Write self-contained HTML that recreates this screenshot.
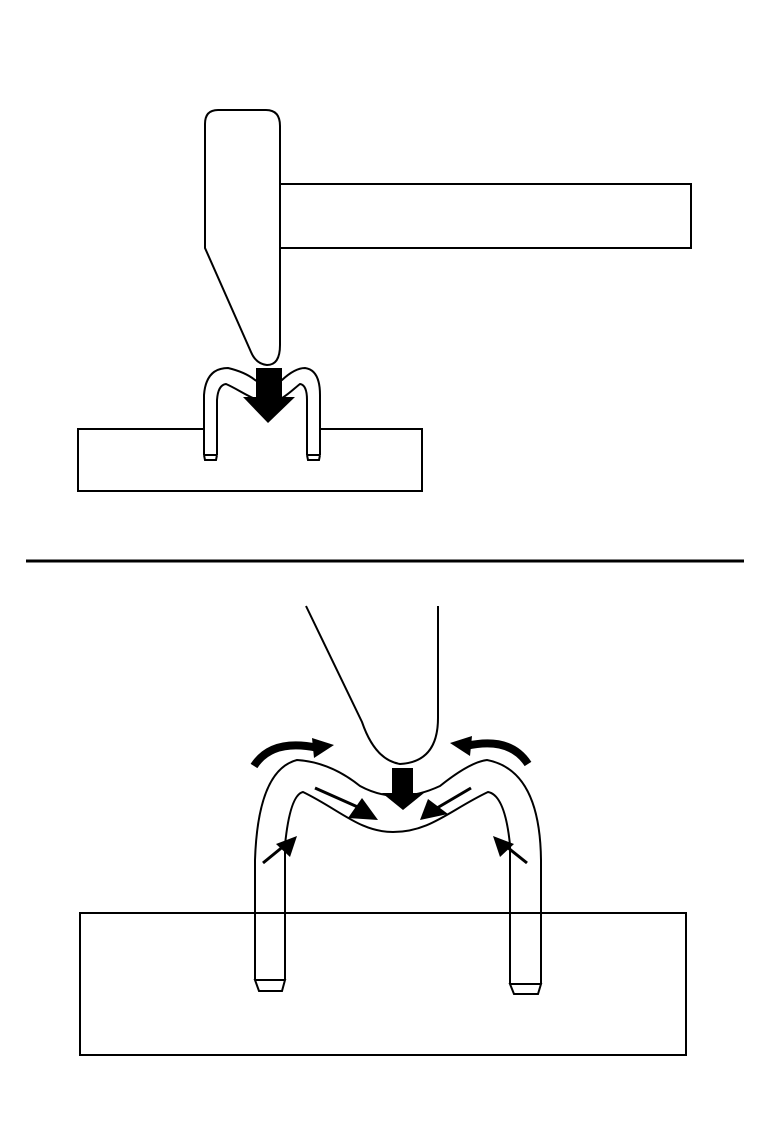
<!DOCTYPE html>
<html><head><style>body{margin:0;background:#fff}svg{display:block}</style></head><body>
<svg width="768" height="1123" viewBox="0 0 768 1123" xmlns="http://www.w3.org/2000/svg" fill="none" stroke="#000" stroke-width="2">
<!-- TOP -->
<rect x="280" y="184" width="411" height="64" fill="#fff"/>
<path d="M218 110 H266 Q280 110 280 126 V345 Q280 365 267 365 Q256 364 251 352 L205 248 V124 Q205 110 218 110 Z" fill="#fff"/>
<rect x="78" y="429" width="344" height="62"/>
<!-- staple top -->
<path d="M204 455 V395 Q206 368 228 368 Q245 372 255 380 Q268 388 282 380 Q295 368 305 368 Q320 370 320 395 V455" fill="#fff"/>
<path d="M217 455 V400 Q218 385 226 384 C240 390 255 402 268 402 C282 402 292 390 300 384 Q307 385 307 400 V455" fill="#fff"/>
<path d="M204 455 H217 M204 455 L205 460 H216 L217 455 M307 455 H320 M307 455 L308 460 H319 L320 455" />
<rect x="256" y="368" width="26" height="29" fill="#000" stroke="none"/>
<polygon points="243,397 295,397 268,423" fill="#000" stroke="none"/>
<!-- separator -->
<line x1="26" y1="561" x2="744" y2="561" stroke-width="3"/>
<!-- BOTTOM -->
<path d="M306 606 L362 722 Q375 760 400 764 Q438 762 438 718 V606"/>
<rect x="80" y="913" width="606" height="142"/>
<path d="M255 980 V860 Q258 770 297 760 Q330 762 360 786 Q397 806 440 786 Q470 762 487 760 Q540 770 541 860 V984"/>
<path d="M285 980 V845 Q290 795 303 792 C340 810 360 832 393 832 C430 832 450 810 488 792 Q505 795 510 845 V984"/>
<path d="M255 980 H285 L282 991 H259 Z M510 984 H541 L538 994 H514 Z"/>
<rect x="392" y="768" width="21" height="25" fill="#000" stroke="none"/>
<polygon points="382,793 424,793 403,810" fill="#000" stroke="none"/>
<!-- curved arrows -->
<path d="M254 766 Q272 738 318 748" stroke-width="8"/>
<polygon points="312,738 334,745 314,758" fill="#000" stroke="none"/>
<path d="M528 764 Q510 736 466 746" stroke-width="8"/>
<polygon points="472,736 450,743 470,756" fill="#000" stroke="none"/>
<!-- straight arrows -->
<line x1="315" y1="788" x2="360" y2="808" stroke-width="3"/>
<polygon points="362,798 378,820 348,818" fill="#000" stroke="none"/>
<line x1="471" y1="788" x2="437" y2="808" stroke-width="3"/>
<polygon points="428,799 420,820 448,814" fill="#000" stroke="none"/>
<line x1="263" y1="863" x2="285" y2="845" stroke-width="3"/>
<polygon points="297,836 276,844 290,857" fill="#000" stroke="none"/>
<line x1="527" y1="863" x2="507" y2="847" stroke-width="3"/>
<polygon points="493,836 500,857 514,844" fill="#000" stroke="none"/>
</svg>
</body></html>
